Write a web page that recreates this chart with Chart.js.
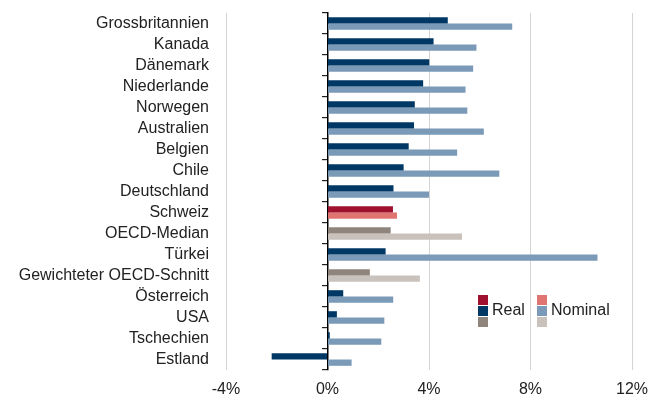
<!DOCTYPE html>
<html>
<head>
<meta charset="utf-8">
<script src="https://cdn.jsdelivr.net/npm/chart.js@4/dist/chart.umd.min.js"></script>
<style>
  html, body { margin: 0; padding: 0; background: #fff; }
  #wrap { position: relative; width: 651px; height: 401px; }
</style>
</head>
<body>
<div id="wrap"><canvas id="c" width="651" height="401"></canvas></div>
<script>
const categories = ["Grossbritannien","Kanada","Dänemark","Niederlande","Norwegen","Australien","Belgien","Chile","Deutschland","Schweiz","OECD-Median","Türkei","Gewichteter OECD-Schnitt","Österreich","USA","Tschechien","Estland"];
const realValues    = [4.74, 4.18, 4.01, 3.77, 3.44, 3.41, 3.20, 3.00, 2.60, 2.58, 2.49, 2.29, 1.67, 0.62, 0.37, 0.09, -2.20];
const nominalValues = [7.28, 5.87, 5.74, 5.44, 5.51, 6.16, 5.11, 6.77, 4.00, 2.74, 5.30, 10.64, 3.64, 2.59, 2.24, 2.12, 0.95];
const xTicks = [-4, 0, 4, 8, 12];
const legendLabels = ["Real", "Nominal"];

const realColors    = { country: "#003865", swiss: "#A0112F", oecd: "#8F857D" };
const nominalColors = { country: "#7A9AB8", swiss: "#E07470", oecd: "#C9C1BB" };
function groupOf(name) {
  if (name === "Schweiz") return "swiss";
  if (name.indexOf("OECD") >= 0) return "oecd";
  return "country";
}
const realBg = categories.map(c => realColors[groupOf(c)]);
const nominalBg = categories.map(c => nominalColors[groupOf(c)]);

const FONT = "'Liberation Sans', Arial, sans-serif";

function zeroPad(scale) {
  scale.paddingTop = 0; scale.paddingBottom = 0;
  scale.paddingLeft = 0; scale.paddingRight = 0;
}

const legendPlugin = {
  id: 'customLegend',
  afterDraw(chart) {
    const ctx = chart.ctx;
    const cols = [
      { x: 478, colors: [realColors.swiss, realColors.country, realColors.oecd], label: legendLabels[0] },
      { x: 537, colors: [nominalColors.swiss, nominalColors.country, nominalColors.oecd], label: legendLabels[1] }
    ];
    ctx.save();
    cols.forEach(col => {
      col.colors.forEach((clr, i) => {
        ctx.fillStyle = clr;
        ctx.fillRect(col.x, 295 + i * 11, 10, 10);
      });
      ctx.fillStyle = "#222";
      ctx.font = "16px " + FONT;
      ctx.textBaseline = "middle";
      ctx.textAlign = "left";
      ctx.fillText(col.label, col.x + 14, 311);
    });
    ctx.restore();
  }
};

new Chart(document.getElementById('c'), {
  type: 'bar',
  data: {
    labels: categories,
    datasets: [
      { label: legendLabels[0], data: realValues, backgroundColor: realBg, categoryPercentage: 0.6, barPercentage: 1.0, yAxisID: 'y' },
      { label: legendLabels[1], data: nominalValues, backgroundColor: nominalBg, categoryPercentage: 0.6, barPercentage: 1.0, yAxisID: 'y' }
    ]
  },
  options: {
    indexAxis: 'y',
    responsive: false,
    animation: false,
    devicePixelRatio: 1,
    layout: { padding: { top: 13, right: 19, bottom: 0, left: 0 } },
    plugins: { legend: { display: false }, tooltip: { enabled: false } },
    scales: {
      x: {
        type: 'linear',
        min: -4, max: 12,
        afterBuildTicks(scale) { scale.ticks = xTicks.map(v => ({ value: v })); },
        afterFit(scale) { zeroPad(scale); scale.height = 31; },
        ticks: {
          callback: v => v + "%",
          font: { family: FONT, size: 16 },
          color: "#222",
          padding: 10
        },
        grid: {
          color: ctx => (ctx.tick && ctx.tick.value === 0) ? 'rgba(0,0,0,0)' : '#d4d4d4',
          drawTicks: false,
          lineWidth: 1
        },
        border: { display: false }
      },
      y: {
        type: 'category',
        position: 'left',
        offset: true,
        afterFit(scale) { zeroPad(scale); scale.width = 226; },
        ticks: {
          font: { family: FONT, size: 16 },
          color: "#222",
          padding: 17,
          autoSkip: false
        },
        grid: { display: false, drawTicks: false },
        border: { display: false }
      },
      y2: {
        type: 'category',
        axis: 'y',
        position: { x: 0 },
        offset: true,
        afterFit(scale) { zeroPad(scale); },
        ticks: { display: false },
        grid: { display: true, offset: true, drawOnChartArea: false, drawTicks: true, tickLength: 5, color: '#222', lineWidth: 1.2 },
        border: { display: true, color: '#000', width: 1.5 }
      }
    }
  },
  plugins: [legendPlugin]
});
</script>
</body>
</html>
